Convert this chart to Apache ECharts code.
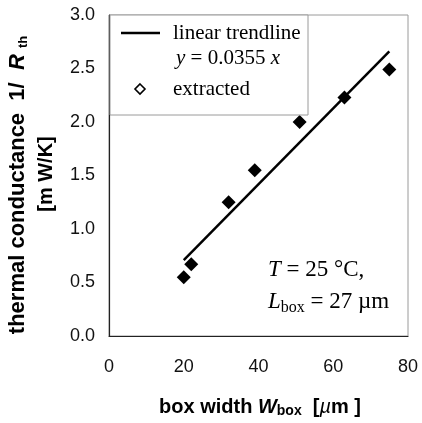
<!DOCTYPE html>
<html>
<head>
<meta charset="utf-8">
<script src="https://cdn.jsdelivr.net/npm/echarts@6/dist/echarts.min.js"></script>
<style>
html,body{margin:0;padding:0;background:#fff;}
#c{width:422px;height:423px;}
</style>
</head>
<body>
<div id="c"></div>
<script>
// Data
const boxWidth = [20, 22, 32, 39, 51, 63, 75];
const conductance = [0.55, 0.67, 1.25, 1.55, 2.0, 2.23, 2.49];
const trendX = [20, 75];
const trendY = [0.71, 2.66];
const xTicks = [0, 20, 40, 60, 80];
const yTicks = [0.0, 0.5, 1.0, 1.5, 2.0, 2.5, 3.0];

const tickFont = '"Liberation Sans", Arial, sans-serif';
const serif = '"Liberation Serif", "Times New Roman", serif';
const sans = '"Liberation Sans", Arial, sans-serif';

const chart = echarts.init(document.getElementById('c'), null, {renderer: 'canvas'});

const option = {
  backgroundColor: '#fff',
  animation: false,
  grid: {left: 109, top: 15, width: 299, height: 321, show: true, borderColor: '#9a9a9a', borderWidth: 1, backgroundColor: 'transparent'},
  xAxis: {
    type: 'value', min: xTicks[0], max: xTicks[xTicks.length - 1], interval: 20,
    axisLine: {show: true, onZero: false, lineStyle: {color: '#222', width: 1.2}},
    axisTick: {show: false},
    splitLine: {show: false},
    axisLabel: {margin: 22, fontFamily: tickFont, fontSize: 18, color: '#111'}
  },
  yAxis: {
    type: 'value', min: yTicks[0], max: yTicks[yTicks.length - 1], interval: 0.5,
    axisLine: {show: true, onZero: false, lineStyle: {color: '#222', width: 1.2}},
    axisTick: {show: false},
    splitLine: {show: false},
    axisLabel: {margin: 14, fontFamily: tickFont, fontSize: 18, color: '#111', formatter: v => v.toFixed(1)}
  },
  series: [
    {
      name: 'linear trendline', type: 'line',
      data: trendX.map((x, i) => [x, trendY[i]]),
      symbol: 'none', lineStyle: {color: '#000', width: 2.5}, z: 2
    },
    {
      name: 'extracted', type: 'scatter',
      data: boxWidth.map((x, i) => [x, conductance[i]]),
      symbol: 'diamond', symbolSize: 14, itemStyle: {color: '#000', opacity: 1}, z: 3
    }
  ],
  graphic: [
    // legend box
    {type: 'rect', shape: {x: 110, y: 15, width: 198, height: 100}, style: {fill: '#fff', stroke: '#9a9a9a', lineWidth: 1}, z: 10},
    {type: 'line', shape: {x1: 121, y1: 33, x2: 160, y2: 33}, style: {stroke: '#000', lineWidth: 2.5}, z: 11},
    {type: 'text', x: 173, y: 33, z: 11, style: {text: 'linear trendline', font: '21px ' + serif, fill: '#000', verticalAlign: 'middle'}},
    {type: 'text', x: 176, y: 58, z: 11, style: {
      text: '{i|y} = 0.0355 {i|x}', font: '21px ' + serif, fill: '#000', verticalAlign: 'middle',
      rich: {i: {fontStyle: 'italic', fontFamily: serif, fontSize: 21}}
    }},
    {type: 'polygon', shape: {points: [[140, 84], [145, 89], [140, 94], [135, 89]]}, style: {fill: '#fff', stroke: '#000', lineWidth: 1.6}, z: 11},
    {type: 'text', x: 173, y: 89, z: 11, style: {text: 'extracted', font: '21px ' + serif, fill: '#000', verticalAlign: 'middle'}},
    // annotation
    {type: 'text', x: 268, y: 270, z: 11, style: {
      text: '{i|T} = 25 °C,', font: '23px ' + serif, fill: '#000', verticalAlign: 'middle',
      rich: {i: {fontStyle: 'italic', fontFamily: serif, fontSize: 23}}
    }},
    {type: 'text', x: 268, y: 302, z: 11, style: {
      text: '{i|L}{s|box} = 27 µm', font: '23px ' + serif, fill: '#000', verticalAlign: 'middle',
      rich: {i: {fontStyle: 'italic', fontFamily: serif, fontSize: 23}, s: {fontFamily: serif, fontSize: 16, padding: [11, 0, 0, 0]}}
    }},
    // x axis title
    {type: 'text', x: 260, y: 407, z: 11, style: {
      text: 'box width {w|W}{s|box}  [{m|µ}m ]', font: 'bold 20px ' + sans, fill: '#000',
      align: 'center', verticalAlign: 'middle',
      rich: {w: {fontStyle: 'italic', fontWeight: 'bold', fontFamily: sans, fontSize: 20},
             s: {fontWeight: 'bold', fontFamily: sans, fontSize: 14, padding: [9, 0, 0, 0]},
             m: {fontStyle: 'italic', fontFamily: sans, fontSize: 20}}
    }},
    // y axis title line 1
    {type: 'text', x: 18, y: 185, rotation: Math.PI / 2, z: 11, style: {
      text: 'thermal conductance  1/  {r|R} {s|th}', font: 'bold 22px ' + sans, fill: '#000',
      align: 'center', verticalAlign: 'middle',
      rich: {r: {fontStyle: 'italic', fontWeight: 'bold', fontFamily: sans, fontSize: 22},
             s: {fontWeight: 'bold', fontFamily: sans, fontSize: 13, padding: [10, 0, 0, 0]}}
    }},
    // y axis title line 2
    {type: 'text', x: 46, y: 174, rotation: Math.PI / 2, z: 11, style: {
      text: '[m W/K]', font: 'bold 20px ' + sans, fill: '#000', align: 'center', verticalAlign: 'middle'
    }}
  ]
};
chart.setOption(option);
</script>
</body>
</html>
